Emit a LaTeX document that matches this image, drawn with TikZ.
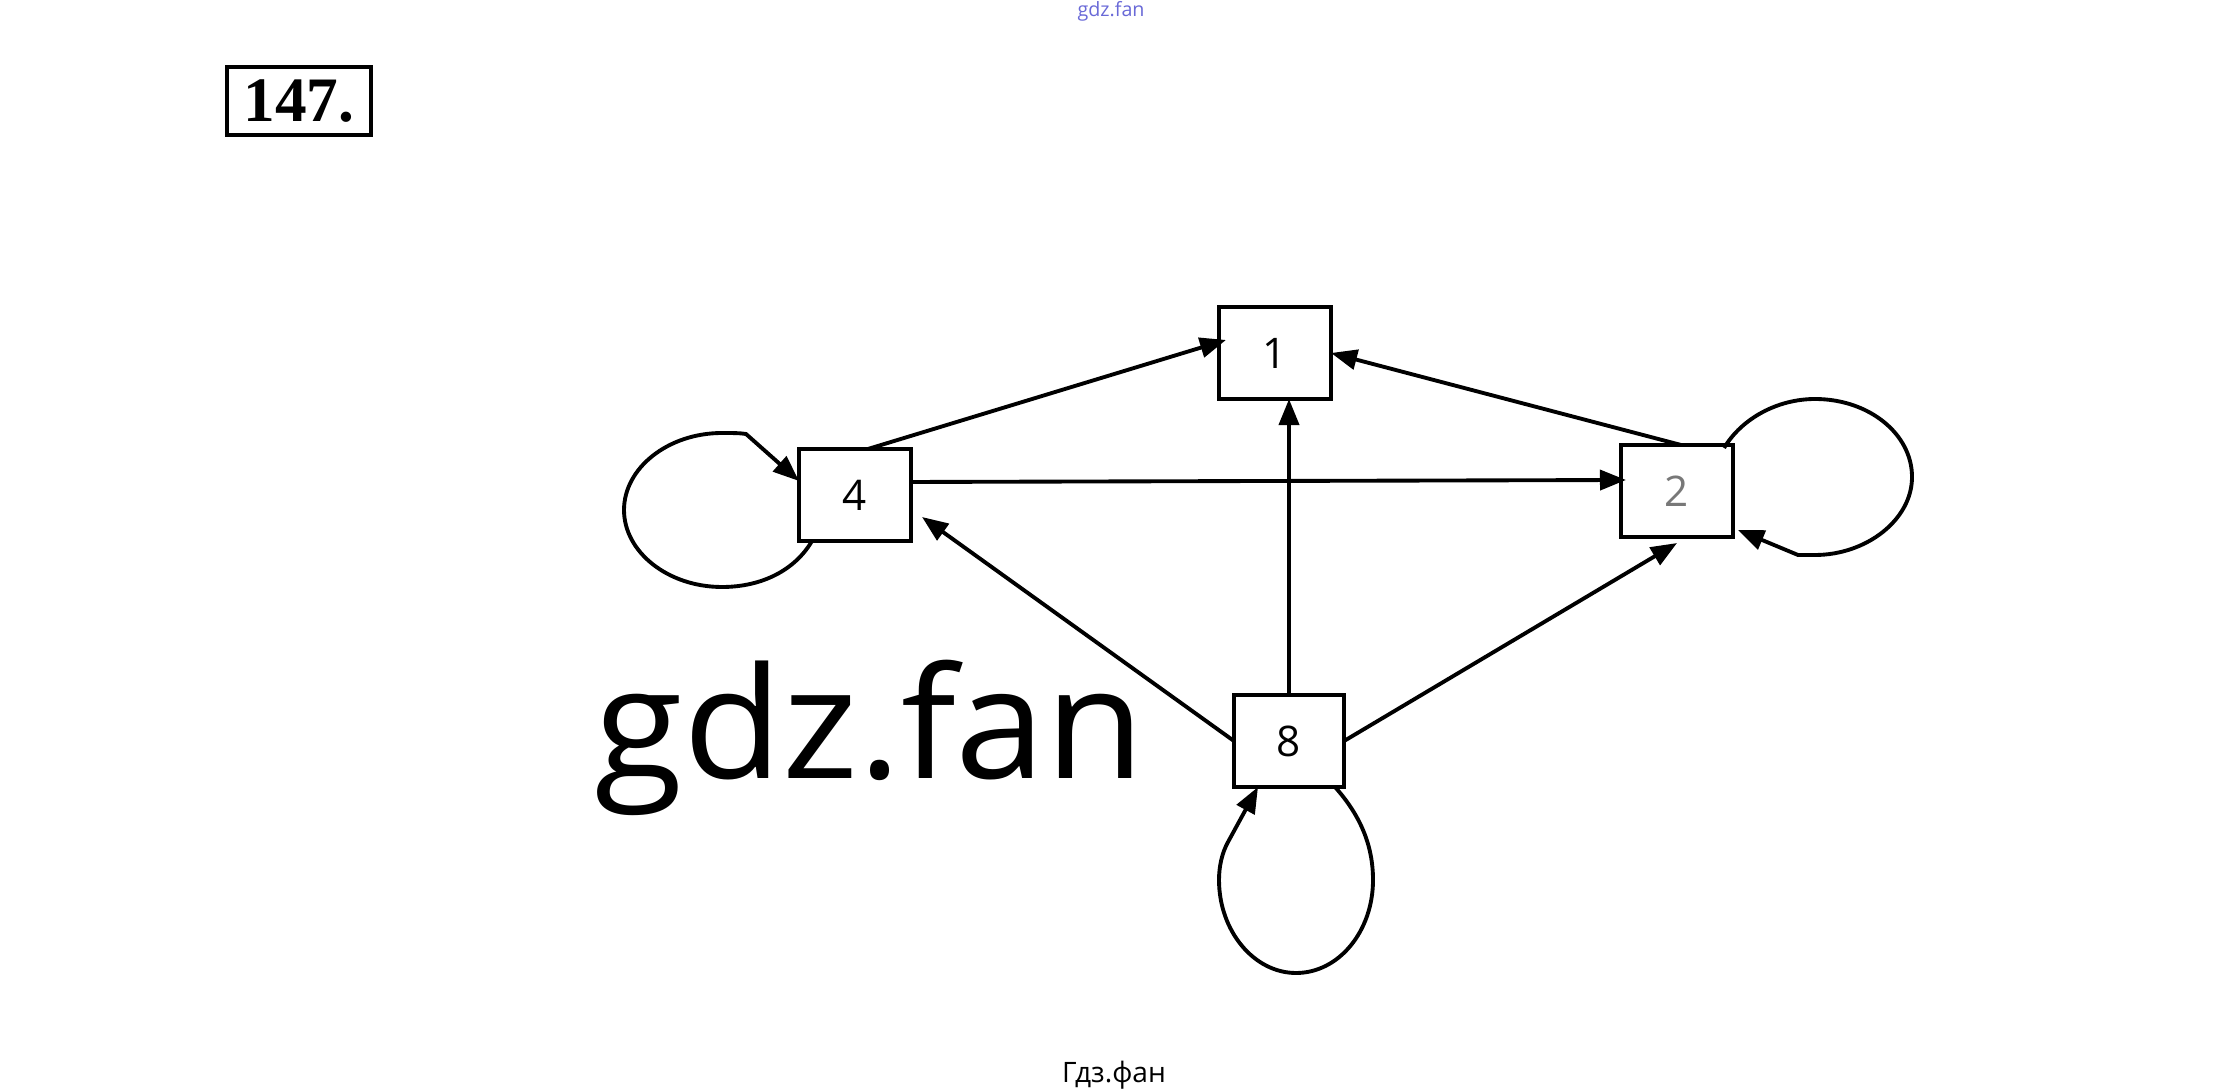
\documentclass[tikz,border=0pt]{standalone}
\usepackage{fontspec}
\setmainfont{Open Sans}
\newfontfamily\serifbold{Liberation Serif}
\usetikzlibrary{arrows.meta,calc}
\definecolor{wmblue}{RGB}{105,105,215}
\definecolor{lblgray}{RGB}{120,120,120}
\tikzset{
  vbox/.style={draw, line width=1.15pt, minimum width=1.12cm, minimum height=0.92cm, inner sep=0pt, outer sep=0pt, font=\fontsize{12}{14}\selectfont},
  edge/.style={line width=1.1pt, -{Triangle[length=0.26cm,width=0.2cm]}},
}
\begin{document}
\begin{tikzpicture}[x=0.01cm,y=-0.01cm]
\useasboundingbox (0,0) rectangle (2222,1092);
% header and watermarks
\node[text=wmblue, font=\fontsize{5.6}{6}\selectfont, inner sep=0pt] (top) at (1111,11) {gdz.fan};
\node[draw, line width=1pt, minimum width=1.44cm, minimum height=0.68cm, inner sep=0pt, font=\serifbold\bfseries\fontsize{18}{20}\selectfont] (num) at (299,101) {147.};
\node[anchor=base west, inner sep=0pt, font=\fontsize{44}{50}\selectfont] (wm) at (594,778) {\scalebox{1.045}[1]{gdz.fan}};
\node[font=\fontsize{8}{10}\selectfont, inner sep=0pt] (cap) at (1114,1075) {Гдз.фан};
% vertices
\node[vbox] (n1) at (1275,353) {1};
\node[vbox] (n4) at (855,495) {4};
\node[vbox, text=lblgray] (n2) at (1677,491) {2};
\node[vbox, minimum width=1.10cm] (n8) at (1289,741) {8};
% edges
\draw[edge] ([xshift=0.13cm]n4.north) -- ([yshift=0.13cm,xshift=0.07cm]n1.west);
\draw[edge] ([xshift=0.04cm]n2.north) -- (n1.east);
\draw[edge] (n8.north) -- (n8.north |- n1.south);
\draw[edge] ([yshift=0.13cm]n4.east) -- ([yshift=0.11cm,xshift=0.05cm]n2.west);
\draw[edge] (n8.west) -- ([xshift=0.11cm,yshift=-0.22cm]n4.east);
\draw[edge] (n8.east) -- ([yshift=-0.06cm]n2.south);
% loops
\draw[edge] ([xshift=-0.43cm]n4.south) .. controls (795,570) and (762,587) .. (722,587)
  .. controls (668,587) and (624,552) .. (624,510)
  .. controls (624,468) and (668,433) .. (722,433)
  .. controls (732,433) and (740,433) .. (746,434) -- ([yshift=-0.32cm]n4.north west);
\draw[edge] ([xshift=-0.09cm,yshift=-0.03cm]n2.north east) .. controls (1742,418) and (1778,399) .. (1815,399)
  .. controls (1869,399) and (1912,434) .. (1912,477)
  .. controls (1912,520) and (1866,555) .. (1815,555)
  -- (1798,555) -- ([yshift=0.07cm,xshift=0.05cm]n2.south east);
\draw[edge] ([xshift=-0.09cm]n8.south east) .. controls (1360,815) and (1373,845) .. (1373,880)
  .. controls (1373,931) and (1339,973) .. (1296,973)
  .. controls (1254,973) and (1219,931) .. (1219,880)
  .. controls (1219,866) and (1222,853) .. (1228,842) -- ([xshift=-0.31cm]n8.south);
\end{tikzpicture}
\end{document}
